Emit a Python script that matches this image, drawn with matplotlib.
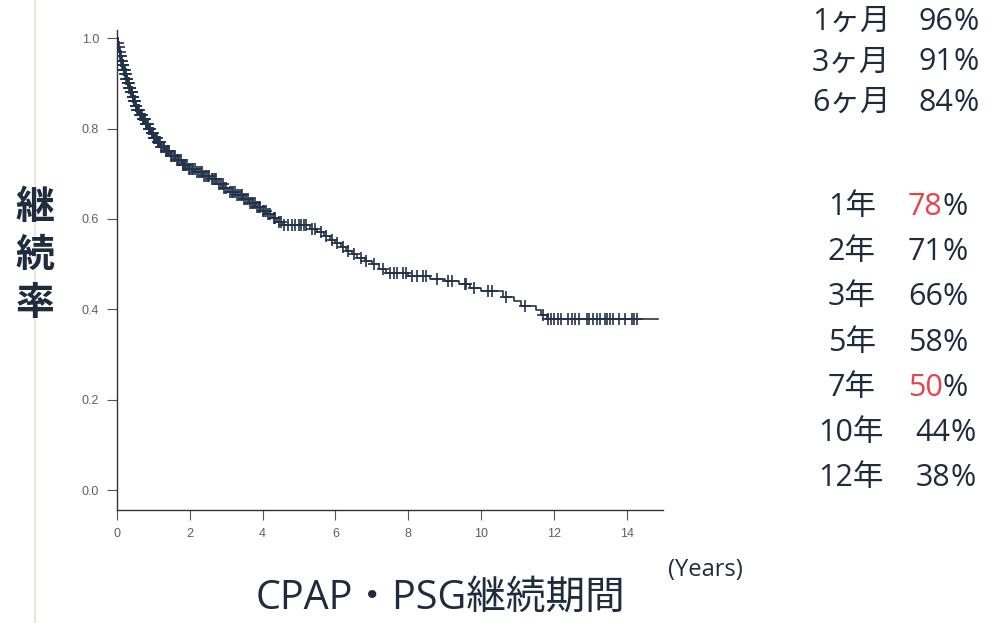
import numpy as np
import matplotlib
matplotlib.use("Agg")
import matplotlib.pyplot as plt
from matplotlib.lines import Line2D

plt.rcParams['font.family'] = ['Noto Sans CJK JP', 'DejaVu Sans']

# Kaplan-Meier step data (time in years, survival after event)
event_times = [0.00, 0.02, 0.04, 0.06, 0.08, 0.11, 0.14, 0.18, 0.22, 0.25, 0.29, 0.33,
               0.37, 0.42, 0.46, 0.50, 0.55, 0.62, 0.70, 0.78, 0.86, 0.93, 1.00, 1.10,
               1.20, 1.32, 1.45, 1.60, 1.78, 1.95, 2.15, 2.35, 2.55, 2.75, 2.92, 3.05,
               3.25, 3.45, 3.62, 3.80, 3.95, 4.10, 4.25, 4.40, 4.55, 5.30, 5.50, 5.70,
               5.85, 6.00, 6.15, 6.30, 6.45, 6.60, 6.80, 7.00, 7.20, 7.40, 8.00, 8.60,
               9.00, 9.40, 9.70, 10.00, 10.60, 10.90, 11.10, 11.50, 11.65, 11.80]
survival = [1.000, 0.990, 0.980, 0.970, 0.960, 0.950, 0.940, 0.930, 0.920, 0.910, 0.900, 0.890,
            0.880, 0.870, 0.860, 0.850, 0.840, 0.830, 0.820, 0.810, 0.800, 0.790, 0.780, 0.770,
            0.760, 0.750, 0.740, 0.730, 0.720, 0.710, 0.703, 0.696, 0.689, 0.677, 0.668, 0.660,
            0.652, 0.644, 0.636, 0.626, 0.618, 0.610, 0.602, 0.594, 0.586, 0.578, 0.570, 0.562,
            0.554, 0.546, 0.538, 0.530, 0.522, 0.514, 0.506, 0.500, 0.490, 0.480, 0.474, 0.468,
            0.462, 0.455, 0.447, 0.440, 0.428, 0.418, 0.408, 0.398, 0.388, 0.378]
end_time = 14.85

censor_times = [0.03, 0.05, 0.07, 0.09, 0.10, 0.12, 0.13, 0.15, 0.16, 0.17, 0.19, 0.20,
                0.21, 0.23, 0.24, 0.26, 0.27, 0.28, 0.30, 0.31, 0.32, 0.34, 0.35, 0.36,
                0.38, 0.39, 0.40, 0.41, 0.43, 0.44, 0.45, 0.47, 0.48, 0.49, 0.52, 0.53,
                0.56, 0.57, 0.59, 0.60, 0.63, 0.65, 0.66, 0.68, 0.71, 0.72, 0.74, 0.75,
                0.77, 0.80, 0.81, 0.83, 0.85, 0.88, 0.89, 0.90, 0.92, 0.95, 0.97, 0.98,
                1.02, 1.03, 1.05, 1.07, 1.09, 1.12, 1.14, 1.15, 1.18, 1.22, 1.25, 1.28,
                1.30, 1.35, 1.38, 1.40, 1.43, 1.48, 1.52, 1.56, 1.58, 1.65, 1.68, 1.70,
                1.75, 1.80, 1.82, 1.86, 1.88, 1.92, 1.98, 2.00, 2.05, 2.10, 2.13, 2.20,
                2.25, 2.30, 2.33, 2.40, 2.45, 2.50, 2.53, 2.60, 2.65, 2.70, 2.73, 2.80,
                2.85, 2.90, 2.95, 3.00, 3.10, 3.15, 3.20, 3.23, 3.30, 3.35, 3.40, 3.43,
                3.50, 3.55, 3.60, 3.65, 3.70, 3.75, 3.78, 3.85, 3.90, 3.93, 4.00, 4.05,
                4.08, 4.15, 4.20, 4.30, 4.35, 4.45, 4.50, 4.60, 4.70, 4.80, 4.90, 5.00,
                5.05, 5.15, 5.20, 5.35, 5.45, 5.60, 5.75, 5.90, 6.05, 6.20, 6.35, 6.50,
                6.70, 6.85, 7.05, 7.30, 7.50, 7.60, 7.70, 7.85, 7.95, 8.10, 8.25, 8.40,
                8.50, 8.80, 9.10, 9.20, 9.55, 9.60, 9.80, 10.20, 10.30, 10.70, 11.20,
                11.70, 11.83, 11.91, 12.01, 12.12, 12.21, 12.40, 12.49, 12.58, 12.69,
                12.90, 12.98, 13.07, 13.18, 13.27, 13.41, 13.47, 13.54, 13.63, 13.79,
                13.96, 14.14, 14.20, 14.28]

x_ticks = [0, 2, 4, 6, 8, 10, 12, 14]
y_ticks = [0.0, 0.2, 0.4, 0.6, 0.8, 1.0]
y_tick_labels = ["0.0", "0.2", "0.4", "0.6", "0.8", "1.0"]

month_labels = ["1ヶ月", "3ヶ月", "6ヶ月"]
month_values = ["96", "91", "84"]
year_labels = ["1年", "2年", "3年", "5年", "7年", "10年", "12年"]
year_values = ["78", "71", "66", "58", "50", "44", "38"]
year_highlight = [True, False, False, False, True, False, False]

# ---------------------------------------------------------------
W, H = 995, 623
fig = plt.figure(figsize=(W / 100, H / 100), dpi=100)
fig.patch.set_facecolor('white')

ax = fig.add_axes([117 / W, 1 - 510 / H, (663 - 117) / W, (510 - 30) / H])
ax.set_xlim(0, 15)
ax.set_ylim(-0.044, 1.018)
ax.set_facecolor('none')

line_col = '#1b2536'
t = np.array(event_times + [end_time])
s = np.array(survival + [survival[-1]])
ax.step(t, s, where='post', color=line_col, lw=1.1, zorder=3)

ct = np.array(censor_times)
idx = np.searchsorted(np.array(event_times), ct, side='right') - 1
cs = np.array(survival)[idx]
ax.plot(ct, cs, linestyle='none', marker='+', markersize=8, mew=1.2,
        color='#22324a', zorder=4)

for sp in ['top', 'right']:
    ax.spines[sp].set_visible(False)
for sp in ['left', 'bottom']:
    ax.spines[sp].set_color('#333333')
    ax.spines[sp].set_linewidth(1.0)

tick_fam = ['Liberation Sans', 'DejaVu Sans']
ax.set_xticks(x_ticks)
ax.set_xticklabels([str(v) for v in x_ticks], fontsize=9, color='#5a5f6a', family=tick_fam)
ax.set_yticks(y_ticks)
ax.set_yticklabels(y_tick_labels, fontsize=9, color='#5a5f6a', family=tick_fam)
ax.tick_params(axis='both', direction='out', length=7, width=0.8, color='#555555')
ax.tick_params(axis='x', pad=6)
ax.tick_params(axis='y', pad=6)

# faint scan line at left
fig.add_artist(Line2D([35 / W, 35 / W], [0, 1], color='#f1e2da', lw=1.3))

txt_col = '#1f2c3e'
# y label stacked
for i, ch in enumerate("継続率"):
    fig.text(35 / W, 1 - (208 + i * 47.5) / H, ch, fontsize=28, fontweight='bold',
             color=txt_col, ha='center', va='center')

# x label
fig.text(441 / W, 1 - 598 / H, "CPAP・PSG継続期間", fontsize=28.5, color=txt_col,
         ha='center', va='center', family=['Open Sans', 'Noto Sans CJK JP'])
fig.text(705 / W, 1 - 570 / H, "(Years)", fontsize=17, color=txt_col,
         ha='center', va='center', family=['Open Sans', 'DejaVu Sans'])

# right side table
red = '#e8424c'
tab_fam = ['Open Sans', 'Noto Sans CJK JP']
def row(x_start, y, label, value, highlight, gap):
    t1 = fig.text(x_start / W, 1 - y / H, label, fontsize=22, color=txt_col,
                  ha='left', va='center', family=tab_fam)
    t2 = plt.annotate(value, xy=(1, 0.5), xycoords=t1, xytext=(gap, 0),
                      textcoords='offset points', fontsize=22, family=tab_fam,
                      color=red if highlight else txt_col, ha='left', va='center',
                      annotation_clip=False)
    plt.annotate("%", xy=(1, 0.5), xycoords=t2, xytext=(0, 0),
                 textcoords='offset points', fontsize=22, color=txt_col, family=tab_fam,
                 ha='left', va='center', annotation_clip=False)

for i, (lab, val) in enumerate(zip(month_labels, month_values)):
    row(812, 22 + i * 40.5, lab, val, False, 20)
for i, (lab, val, hl) in enumerate(zip(year_labels, year_values, year_highlight)):
    xs = 828 if len(lab) == 2 else 818
    row(xs, 207 + i * 45.2, lab, val, hl, 23)

fig.savefig("out.png", dpi=100, facecolor='white')
